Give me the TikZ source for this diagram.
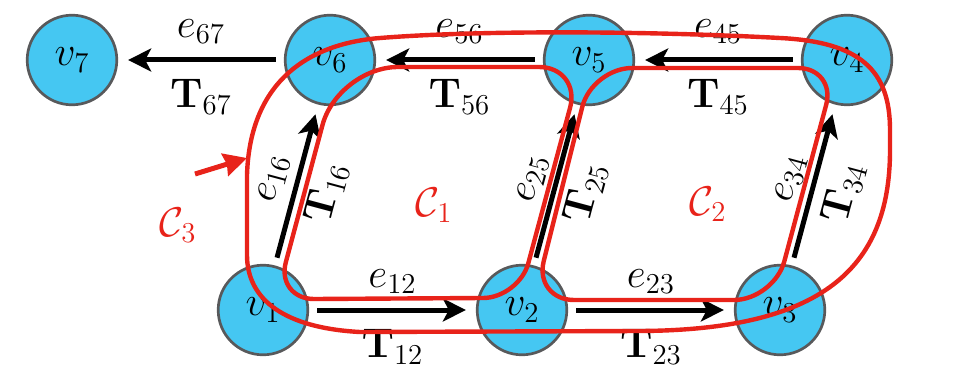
\documentclass[tikz,border=0pt]{standalone}
\usetikzlibrary{arrows.meta,calc}
\definecolor{nodeblue}{HTML}{45C7F2}
\definecolor{nodegray}{HTML}{58595B}
\definecolor{loopred}{HTML}{E8231A}
\begin{document}
\begin{tikzpicture}[x=0.5pt,y=-0.5pt,
  font=\fontsize{21.5}{25}\selectfont,
  vtx/.style={circle,draw=nodegray,line width=1.35pt,fill=nodeblue,minimum size=44.8pt,inner sep=0pt},
  edgearrow/.style={line width=2.5pt,-{Stealth[length=11.5pt,width=11.5pt,inset=3pt]},shorten >=5pt,shorten <=4pt},
  elbl/.style={inner sep=2pt,above=5pt},
  tlbl/.style={inner sep=2pt,below=6.5pt},
  selbl/.style={inner sep=2pt,above=2.5pt,sloped},
  stlbl/.style={inner sep=2pt,below=3.5pt,sloped},
  cycleline/.style={draw=loopred,line width=2.2pt},
  cyclelbl/.style={text=loopred,inner sep=0pt},
  pointer/.style={draw=loopred,line width=2.5pt,-{Stealth[length=11.5pt,width=11.5pt,inset=1pt]}},
]
\useasboundingbox (0,0) rectangle (973,369);

% vertices
\node[vtx] (v7) at (72,60) {$v_7$};
\node[vtx] (v6) at (330,60) {$v_6$};
\node[vtx] (v5) at (589,60) {$v_5$};
\node[vtx] (v4) at (847,60) {$v_4$};
\node[vtx] (v1) at (263,310) {$v_1$};
\node[vtx] (v2) at (522,310) {$v_2$};
\node[vtx] (v3) at (780,310) {$v_3$};

% edges
\draw[edgearrow] (v6) -- node[elbl]{$e_{67}$} node[tlbl]{$\mathbf{T}_{67}$} (v7);
\draw[edgearrow] (v5) -- node[elbl]{$e_{56}$} node[tlbl]{$\mathbf{T}_{56}$} (v6);
\draw[edgearrow] (v4) -- node[elbl]{$e_{45}$} node[tlbl]{$\mathbf{T}_{45}$} (v5);
\draw[edgearrow] (v1) -- node[elbl]{$e_{12}$} node[tlbl]{$\mathbf{T}_{12}$} (v2);
\draw[edgearrow] (v2) -- node[elbl]{$e_{23}$} node[tlbl]{$\mathbf{T}_{23}$} (v3);
\draw[edgearrow] (v1) -- node[selbl]{$e_{16}$} node[stlbl]{$\mathbf{T}_{16}$} (v6);
\draw[edgearrow] (v2) -- node[selbl]{$e_{25}$} node[stlbl]{$\mathbf{T}_{25}$} (v5);
\draw[edgearrow] (v3) -- node[selbl]{$e_{34}$} node[stlbl]{$\mathbf{T}_{34}$} (v4);

% cycle C1
\draw[cycleline] (314,299) .. controls (293.1,299) and (280.4,282.5) .. (285.8,262.3)
  -- (322.5,125) .. controls (331,93.1) and (365,67) .. (398,67)
  -- (539,67) .. controls (562.1,67) and (576.1,85.3) .. (570.1,107.6)
  -- (528.3,263.2) .. controls (523.2,282.3) and (502.8,298) .. (483,298)
  -- cycle;
% cycle C2
\draw[cycleline] (574,300) .. controls (552,300) and (538.4,282.5) .. (543.7,261.2)
  -- (582.3,106.8) .. controls (587.6,85.5) and (610,68) .. (632,68)
  -- (798,68) .. controls (818.9,68) and (831.6,84.5) .. (826.2,104.7)
  -- (784.3,261.4) .. controls (778.6,282.6) and (756,300) .. (734,300)
  -- cycle;
% cycle C3
\draw[cycleline] (780,38) .. controls (650,31) and (480,30) .. (380,38)
  .. controls (310,43.6) and (250,80) .. (247,175)
  -- (247,255) .. controls (247,300) and (285,328) .. (360,332)
  -- (640,331) .. controls (820,330) and (890,270) .. (890,150)
  -- (890,130) .. controls (890,70) and (860,42) .. (780,38) -- cycle;

% cycle labels
\node[cyclelbl] (C1) at (434,205) {$\mathcal{C}_1$};
\node[cyclelbl] (C2) at (708,204) {$\mathcal{C}_2$};
\node[cyclelbl] (C3) at (178,225) {$\mathcal{C}_3$};

% pointer to C3
\coordinate (c3tail) at (195,174);
\coordinate (c3tip) at (247,158);
\draw[pointer] (c3tail) -- (c3tip);
\end{tikzpicture}
\end{document}
